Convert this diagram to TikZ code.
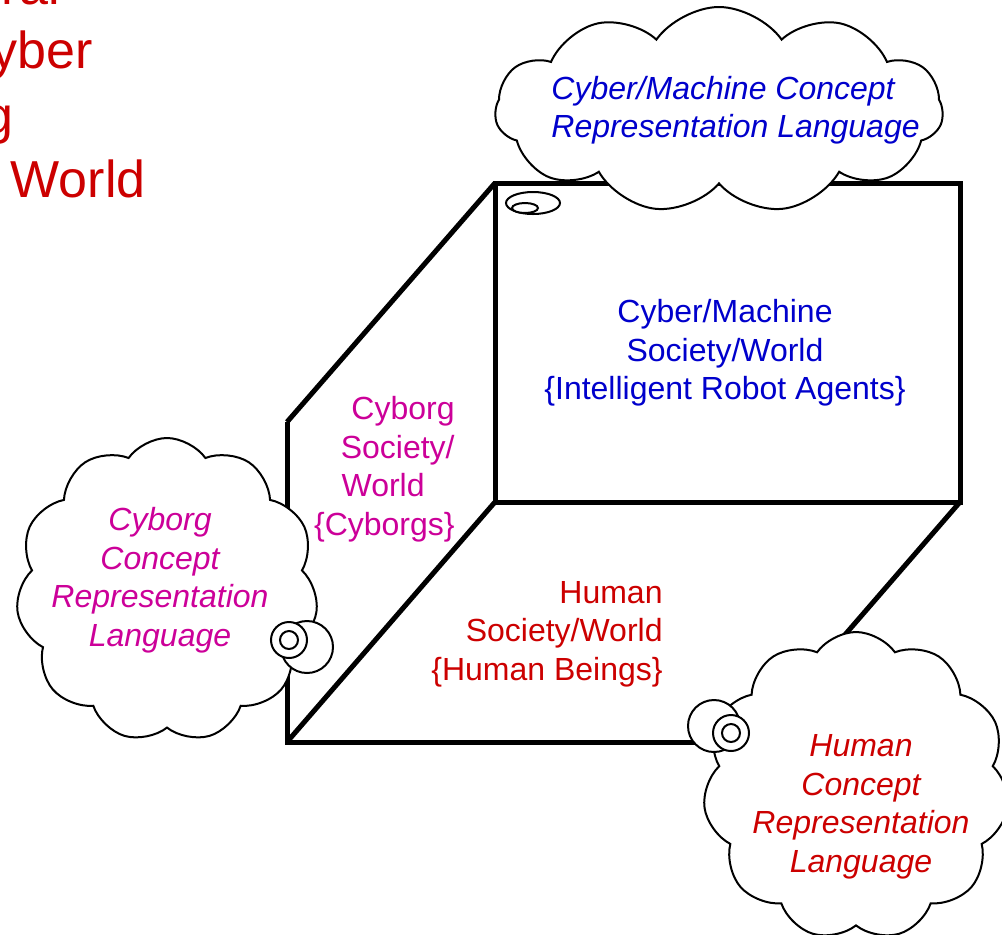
\documentclass[tikz,border=0pt]{standalone}
\usepackage{fontspec}
\setmainfont{Liberation Sans}
\usetikzlibrary{shapes.symbols}
\definecolor{cybblue}{RGB}{0,0,204}
\definecolor{cybpink}{RGB}{204,0,153}
\definecolor{humred}{RGB}{204,0,0}

\begin{document}
\begin{tikzpicture}[
  x=0.5pt, y=-0.5pt,
  edge/.style={line width=2.5pt},
  thought/.style={cloud, draw, fill=white, line width=1pt, inner sep=0pt, cloud puffs=11, cloud puff arc=110},
  bubble/.style={draw, fill=white, line width=1pt},
  lbl/.style={font=\fontsize{16}{19.25}\selectfont, inner sep=0pt},
  ilbl/.style={font=\fontsize{16}{19.25}\selectfont\itshape, inner sep=0pt, align=center},
  title/.style={font=\fontsize{26}{32}\selectfont, text=humred, anchor=base east, inner sep=0pt}
]
\useasboundingbox (0,0) rectangle (1002,934);

% ---------- Title (cut off at the page edge) ----------
\node[title] (t1) at (60,4) {ral};
\node[title] (t2) at (93,68) {yber};
\node[title] (t3) at (14,133) {g};
\node[title] (t4) at (146,197) {World};

% ---------- Box of the three worlds ----------
\coordinate (bTL) at (495,183);
\coordinate (bTR) at (960,183);
\coordinate (bBR) at (960,502);
\coordinate (bBL) at (495,502);
\coordinate (fTL) at (287,422);
\coordinate (fBL) at (287,742);
\coordinate (fBR) at (752,742);
\draw[edge] (bTL) -- (bTR) -- (bBR) -- (bBL) -- cycle;
\draw[edge] (fTL) -- (fBL) -- (fBR);
\draw[edge] (fTL) -- (bTL);
\draw[edge] (fBL) -- (bBL);
\draw[edge] (bBR) -- (fBR);

% ---------- Thought clouds ----------
\node[thought, aspect=2.2, minimum width=224pt, minimum height=103pt] (cybcloud) at (719,110) {};
\node[thought, aspect=1, minimum width=151pt, minimum height=152pt] (borgcloud) at (167,590) {};
\node[thought, aspect=1, minimum width=153pt, minimum height=154pt] (humcloud) at (856,786) {};

% bubbles
\draw[bubble] (533,203) ellipse [x radius=27, y radius=11];
\draw[bubble] (525,208) ellipse [x radius=13, y radius=5];
\draw[bubble] (307,647) circle [radius=26];
\draw[bubble] (289,640) circle [radius=18];
\draw[bubble] (289,640) circle [radius=9];
\draw[bubble] (714,726) circle [radius=26];
\draw[bubble] (731,733) circle [radius=18];
\draw[bubble] (731,733) circle [radius=9];

% ---------- Labels ----------
\node[lbl, text=cybblue, align=center] (cyb) at (725,353)
  {Cyber/Machine\\Society/World\\\{Intelligent Robot Agents\}};
\node[lbl, text=cybpink, align=right, anchor=east] (borg) at (455,469)
  {Cyborg\\Society/\\World\hspace*{15pt}\mbox{}\\\{Cyborgs\}};
\node[lbl, text=humred, align=right, anchor=east] (hum) at (663,634)
  {Human\\Society/World\\\{Human Beings\}};

\node[ilbl, text=cybblue, align=left, anchor=west] (cybtxt) at (551,110)
  {Cyber/Machine Concept\\Representation Language};
\node[ilbl, text=cybpink] (borgtxt) at (160,580)
  {Cyborg\\Concept\\Representation\\Language};
\node[ilbl, text=humred] (humtxt) at (861,807)
  {Human\\Concept\\Representation\\Language};
\end{tikzpicture}
\end{document}
